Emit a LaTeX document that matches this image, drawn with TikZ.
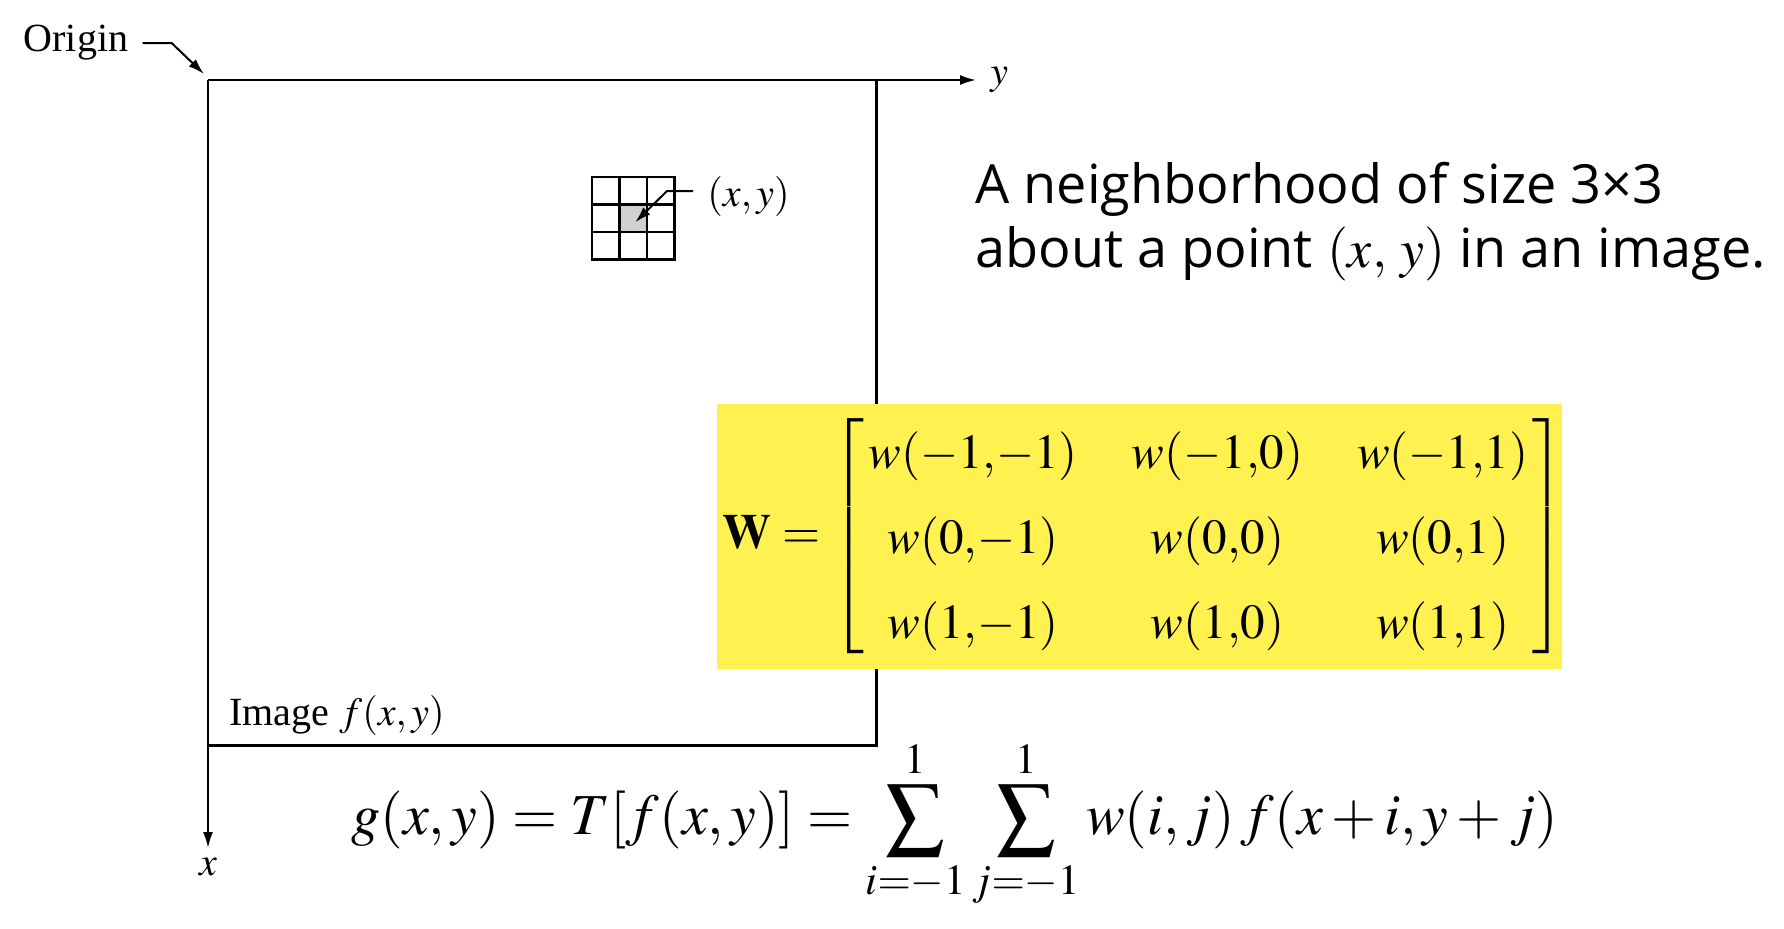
\documentclass[tikz,border=0pt]{standalone}
\usepackage{mathptmx}
\usepackage[no-math]{fontspec}
\setmainfont{Liberation Serif}
\newfontfamily\slidefont{Open Sans}
\usetikzlibrary{arrows.meta,positioning}
\definecolor{hiyellow}{RGB}{255,242,80}
\definecolor{hitgray}{RGB}{208,208,208}

\begin{document}
\begin{tikzpicture}[x=0.5pt, y=-0.5pt, every node/.style={inner sep=0pt}]
\tikzset{
  axis/.style={line width=1pt, -{Latex[length=8pt,width=5pt]}},
  pointer/.style={line width=1pt, -{Latex[length=8pt,width=5pt]}},
  imgframe/.style={line width=1.5pt},
  cell/.style={draw, line width=1.1pt, minimum size=13.75pt},
  axislabel/.style={font=\fontsize{20}{24}\selectfont},
  slidetext/.style={font=\slidefont\fontsize{27}{32}\selectfont, anchor=base west},
}
\useasboundingbox (0,0) rectangle (1784,928);
% axes and image frame
\coordinate (O) at (208,80);
\coordinate (yend) at (976,80);
\coordinate (xend) at (208,848);
\coordinate (C) at (876,745);
\draw[imgframe] (O -| C) -- (C) -- (O |- C);
\draw[axis] (O) -- (yend);
\draw[axis] (O) -- (xend);
\node[axislabel, right=7pt of yend] (ylab) {$y$};
\node[axislabel, below=5pt of xend] (xlab) {$x$};
\node[axislabel] (origin) at (76,43) {Origin};
\draw[pointer] ([xshift=7pt]origin.east) -- ++(29,0) -- ([shift={(-2pt,3pt)}]O);
\node[axislabel] (imglabel) at (337,715) {Image $f(x,y)$};
% 3x3 neighborhood
\node[cell, fill=hitgray] (hit) at (633.25,218.25) {};
\foreach \r in {0,1,2}
  \foreach \c in {0,1,2}
    \node[cell] (c\r\c) at (605.75+27.5*\c,190.75+27.5*\r) {};
\node[axislabel, anchor=west] (ptlabel) at (707,196) {$(x,y)$};
\draw[pointer] ([xshift=-7pt,yshift=2.5pt]ptlabel.west) -- ++(-26,0) -- ([shift={(1pt,-2pt)}]c11.center);
% caption
\node[slidetext] (capA) at (975,203) {A neighborhood of size 3×3};
\node[slidetext] (capB) at (975,267) {about a point {\rmfamily$(x,$ $y)$} in an image.};
% mask
\node[fill=hiyellow, minimum width=422.5pt, minimum height=132.5pt] (wbox) at (1139.5,536.5) {};
\node[font=\fontsize{24.5}{32}\selectfont] (wmat) at (1144,536.5)
  {\renewcommand{\arraystretch}{1.33}\delimitershortfall=14pt%
   $\mathbf{W}=\left[\begin{array}{@{\hspace{2pt}}c@{\hspace{27pt}}c@{\hspace{27pt}}c@{\hspace{2pt}}}
     w(-1{,}{-1}) & w(-1{,}0) & w(-1{,}1)\\
     w(0{,}{-1}) & w(0{,}0) & w(0{,}1)\\
     w(1{,}{-1}) & w(1{,}0) & w(1{,}1)
   \end{array}\right]$};
% response formula
\node[font=\fontsize{29}{35}\selectfont] (gformula) at (955,824)
  {$g(x,y)=T[f(x,y)]=\displaystyle\sum_{i=-1}^{1}\sum_{j=-1}^{1}w(i,j)\,f(x+i,y+j)$};
\end{tikzpicture}
\end{document}
